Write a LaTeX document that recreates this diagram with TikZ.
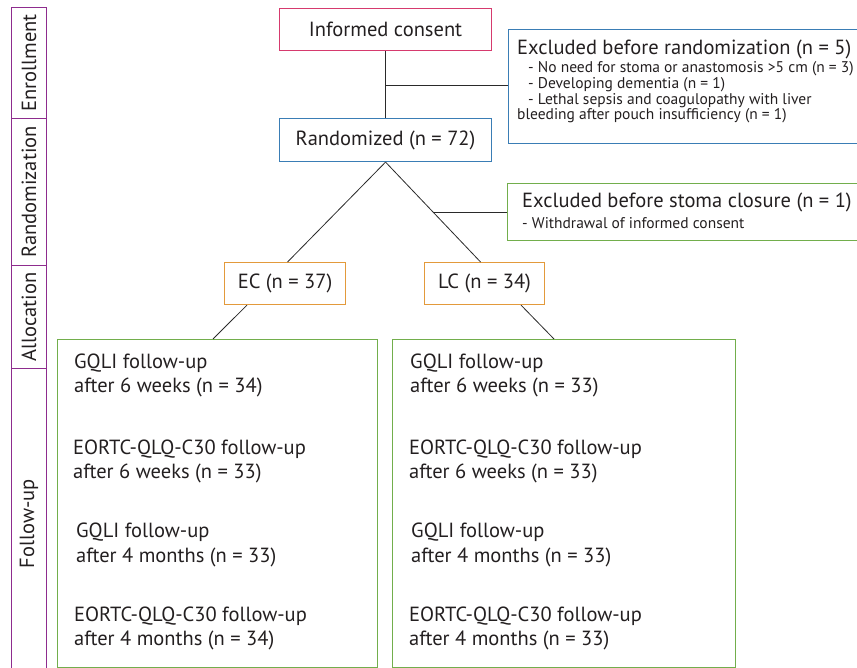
\documentclass[tikz,border=0pt]{standalone}
\usepackage{fontspec}
\setmainfont{PT Sans}
\usetikzlibrary{calc}
\definecolor{cpink}{HTML}{D63A6E}
\definecolor{cblue}{HTML}{3A7DB5}
\definecolor{corange}{HTML}{E39A3B}
\definecolor{cgreen}{HTML}{72AE4C}
\definecolor{cpurple}{HTML}{8E2C8E}
\definecolor{ctext}{HTML}{231F20}
\definecolor{cline}{HTML}{2A2A2A}
\begin{document}
\begin{tikzpicture}[x=1pt,y=-1pt,
  every node/.style={text=ctext},
  mainfont/.style={font=\fontsize{20.5}{24.5}\selectfont},
  subfont/.style={font=\fontsize{15.5}{17}\selectfont},
  framebox/.style={draw, line width=1.1pt, inner sep=0pt, anchor=north west, mainfont},
  labbox/.style={draw=cpurple, line width=1.1pt, inner sep=0pt, anchor=north west, minimum width=35pt},
  labtext/.style={rotate=90, inner sep=0pt, font=\fontsize{20.5}{24}\selectfont},
  txt/.style={anchor=west, inner sep=0pt, align=left},
  conn/.style={draw=cline, line width=0.8pt}]
\useasboundingbox (0,0) rectangle (857,668);
\clip (0,0) rectangle (857,668);

% stage labels
\node[labbox, minimum height=111pt] (l1) at (11,7) {};
\node[labbox, minimum height=147pt] (l2) at (11,118) {};
\node[labbox, minimum height=103pt] (l3) at (11,265) {};
\node[labbox, minimum height=304pt] (l4) at (11,368) {};
\node[labtext] (l1t) at (l1.center) {Enrollment};
\node[labtext] (l2t) at (l2.center) {Randomization};
\node[labtext] (l3t) at (l3.center) {Allocation};
\node[labtext] (l4t) at ([yshift=-3pt]l4.center) {Follow-up};

% main boxes
\node[framebox, draw=cpink, minimum width=212pt, minimum height=42pt] (ic) at (279,8) {Informed consent};
\node[framebox, draw=cblue, minimum width=212pt, minimum height=43pt] (rand) at (279,118) {Randomized (n = 72)};
\node[framebox, draw=corange, minimum width=121pt, minimum height=42pt] (ec) at (224,262) {EC (n = 37)};
\node[framebox, draw=corange, minimum width=120pt, minimum height=42pt] (lc) at (424,262) {LC (n = 34)};

% exclusion boxes
\node[framebox, draw=cblue, minimum width=360pt, minimum height=114pt] (ex1) at (508,29) {};
\node[txt, mainfont] (ex1t) at (517,49) {Excluded before randomization (n = 5)};
\node[txt, subfont] (ex1a) at (528,69) {- No need for stoma or anastomosis >5 cm (n = 3)};
\node[txt, subfont] (ex1b) at (528,85) {- Developing dementia (n = 1)};
\node[txt, subfont] (ex1c) at (528,100.5) {- Lethal sepsis and coagulopathy with liver};
\node[txt, subfont] (ex1d) at (517,116) {bleeding after pouch insufficiency (n = 1)};

\node[framebox, draw=cgreen, minimum width=360pt, minimum height=57pt] (ex2) at (507,183) {};
\node[txt, mainfont] (ex2t) at (522,202) {Excluded before stoma closure (n = 1)};
\node[txt, subfont] (ex2a) at (522,223) {- Withdrawal of informed consent};

% follow-up boxes
\node[framebox, draw=cgreen, minimum width=320pt, minimum height=328pt] (fl) at (57,339) {};
\node[framebox, draw=cgreen, minimum width=343pt, minimum height=328pt] (fr) at (392,339) {};

\node[txt, mainfont] (fl1) at (74,375.5) {GQLI follow-up\\after 6 weeks (n = 34)};
\node[txt, mainfont] (fl2) at (73,461.5) {EORTC-QLQ-C30 follow-up\\after 6 weeks (n = 33)};
\node[txt, mainfont] (fl3) at (76,545) {GQLI follow-up\\after 4 months (n = 33)};
\node[txt, mainfont] (fl4) at (74,628.5) {EORTC-QLQ-C30 follow-up\\after 4 months (n = 34)};

\node[txt, mainfont] (fr1) at (410,375.5) {GQLI follow-up\\after 6 weeks (n = 33)};
\node[txt, mainfont] (fr2) at (409,461.5) {EORTC-QLQ-C30 follow-up\\after 6 weeks (n = 33)};
\node[txt, mainfont] (fr3) at (411,545) {GQLI follow-up\\after 4 months (n = 33)};
\node[txt, mainfont] (fr4) at (409,628.5) {EORTC-QLQ-C30 follow-up\\after 4 months (n = 33)};

% connectors
\draw[conn] (ic.south) -- (rand.north);
\coordinate (j1) at ($(ic.south)!0.515!(rand.north)$);
\draw[conn] (j1) -- (j1 -| ex1.west);

\coordinate (ectop) at ([xshift=2.5pt]ec.north);
\coordinate (lctop) at ([xshift=-4pt]lc.north);
\draw[conn] (rand.south) -- (ectop);
\draw[conn] (rand.south) -- (lctop);
\coordinate (j2) at ($(rand.south)!0.505!(lctop)$);
\draw[conn] (j2) -- (j2 -| ex2.west);

\draw[conn] ([xshift=23pt]ec.south west) -- ([xshift=156pt]fl.north west);
\draw[conn] ([xshift=97pt]lc.south west) -- ([xshift=162pt]fr.north west);
\end{tikzpicture}
\end{document}
